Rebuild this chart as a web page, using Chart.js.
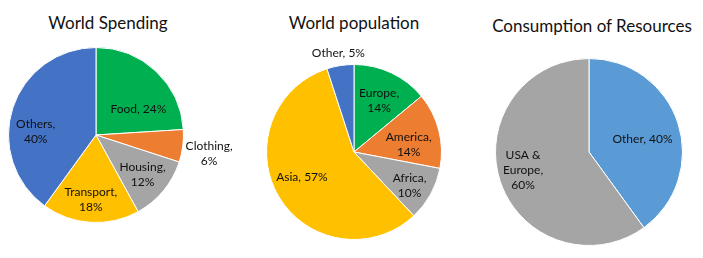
<!DOCTYPE html>
<html>
<head>
<meta charset="utf-8">
<script src="https://cdn.jsdelivr.net/npm/chart.js@4.4.1/dist/chart.umd.min.js"></script>
<style>
    body { margin: 0; background: #fff; }
    #wrap { position: relative; width: 703px; height: 258px; overflow: hidden; font-family: Lato, "Open Sans", sans-serif; }
    .title { position: absolute; font-size: 17px; color: #111; white-space: nowrap; transform: translate(-50%, -50%); }
    .box { position: absolute; top: 0; height: 258px; }
</style>
</head>
<body>
<div id="wrap">
    <div class="title" style="left:108px; top:22px;">World Spending</div>
    <div class="title" style="left:354px; top:22px;">World population</div>
    <div class="title" style="left:592px; top:25px;">Consumption of Resources</div>
    <div class="box" style="left:0; width:234px;"><canvas id="c1"></canvas></div>
    <div class="box" style="left:234px; width:236px;"><canvas id="c2"></canvas></div>
    <div class="box" style="left:470px; width:233px;"><canvas id="c3"></canvas></div>
</div>
<script>
// ===== Data =====
const spendingLabels = ['Food', 'Clothing', 'Housing', 'Transport', 'Others'];
const spendingValues = [24, 6, 12, 18, 40];

const populationLabels = ['Europe', 'America', 'Africa', 'Asia', 'Other'];
const populationValues = [14, 14, 10, 57, 5];

const resourceLabels = ['Other', 'USA & Europe'];
const resourceValues = [40, 60];

// ===== Label Placement (radius factor, angle tweak in degrees, wrap) =====
const spendingLabelPos = [[0.57, 15, false], [1.31, 2, true], [0.7, 1, true], [0.74, 1, true], [0.69, -15, true]];
const populationLabelPos = [[0.65, 1, true], [0.63, 7, true], [0.74, 2, true], [0.66, 5, false], [1.14, 0, false]];
const resourceLabelPos = [[0.59, 4, false], [0.73, 3, true]];

// ===== Data Label Plugin =====
const pieLabels = {
    id: 'pieLabels',
    afterDatasetsDraw(chart, args, opts) {
        const ctx = chart.ctx;
        const meta = chart.getDatasetMeta(0);
        const ds = chart.data.datasets[0];
        ctx.save();
        ctx.font = '12px Lato, "Open Sans", sans-serif';
        ctx.fillStyle = '#111';
        ctx.textAlign = 'center';
        ctx.textBaseline = 'middle';
        meta.data.forEach((arc, i) => {
            const [f, tweak, wrap] = opts.pos[i];
            const mid = (arc.startAngle + arc.endAngle) / 2 + tweak * Math.PI / 180;
            const x = arc.x + Math.cos(mid) * arc.outerRadius * f;
            const y = arc.y + Math.sin(mid) * arc.outerRadius * f;
            const text = `${chart.data.labels[i]}, ${ds.data[i]}%`;
            let lines = [text];
            if (wrap) {
                lines = [];
                let cur = '';
                text.split(' ').forEach(w => {
                    const test = cur ? cur + ' ' + w : w;
                    if (cur && ctx.measureText(test).width > 45) {
                        lines.push(cur);
                        cur = w;
                    } else {
                        cur = test;
                    }
                });
                lines.push(cur);
            }
            const lh = 15;
            lines.forEach((ln, k) => {
                ctx.fillText(ln, x, y + (k - (lines.length - 1) / 2) * lh);
            });
        });
        ctx.restore();
    }
};

// ===== Build Pie =====
function makePie(id, labels, values, colors, padding, pos) {
    return new Chart(document.getElementById(id), {
        type: 'pie',
        data: {
            labels: labels,
            datasets: [{ data: values, backgroundColor: colors, borderColor: '#fff', borderWidth: 1 }]
        },
        options: {
            responsive: true,
            maintainAspectRatio: false,
            animation: false,
            layout: { padding: padding },
            plugins: {
                legend: { display: false },
                tooltip: { enabled: false },
                pieLabels: { pos: pos }
            }
        },
        plugins: [pieLabels]
    });
}

makePie('c1', spendingLabels, spendingValues,
    ['#00B050', '#ED7D31', '#A5A5A5', '#FFC000', '#4472C4'],
    { left: 8, right: 50, top: 47, bottom: 35 }, spendingLabelPos);

makePie('c2', populationLabels, populationValues,
    ['#00B050', '#ED7D31', '#A5A5A5', '#FFC000', '#4472C4'],
    { left: 32, right: 28, top: 64, bottom: 18 }, populationLabelPos);

makePie('c3', resourceLabels, resourceValues,
    ['#5B9BD5', '#A5A5A5'],
    { left: 25, right: 20, top: 58, bottom: 12 }, resourceLabelPos);
</script>
</body>
</html>
